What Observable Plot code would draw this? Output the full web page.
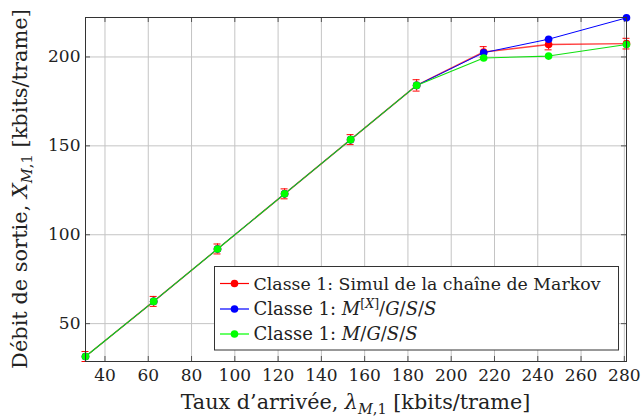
<!DOCTYPE html>
<html><head><meta charset="utf-8">
<script src="https://cdn.jsdelivr.net/npm/d3@7"></script>
<script src="https://cdn.jsdelivr.net/npm/@observablehq/plot@0.6"></script>
<style>
body{margin:0;background:#fff}
#chart svg, #chart svg text, #chart svg tspan { font-family: "DejaVu Serif", "Liberation Serif", "Times New Roman", Times, serif !important; }
</style>
</head><body><div id="chart"></div>
<script>
// ---- data ----
const lambda   = [31, 62.5, 92, 123, 153.5, 184, 215, 245, 281];
const markov   = [31.5, 62.5, 92, 123, 153.5, 184, 202.8, 207, 207.5];
const markovErr= [2.8, 2.8, 2.8, 2.8, 2.8, 3.2, 3, 3, 3];
const batch    = [31.5, 62.5, 92, 123, 153.5, 184, 202.4, 210, 222];
const mgss     = [31.5, 62.5, 92, 123, 153.5, 184, 199.4, 200.5, 207];
const xTicks   = [40, 60, 80, 100, 120, 140, 160, 180, 200, 220, 240, 260, 280];
const yTicks   = [50, 100, 150, 200];
const colors   = ["#ff0000", "#0000ff", "#00ff00"];

const rows = (ys, err) => lambda.map((x, i) => ({x, y: ys[i], lo: err ? ys[i] - err[i] : null, hi: err ? ys[i] + err[i] : null}));
const dMarkov = rows(markov, markovErr);
const dBatch = rows(batch);
const dMgss = rows(mgss);

const W = 641, H = 418, mL = 85, mR = 15, mT = 17, mB = 57;
const innerW = W - mL - mR, innerH = H - mT - mB;

const plot = Plot.plot({
  width: W, height: H,
  marginLeft: mL, marginRight: mR, marginTop: mT, marginBottom: mB,
  style: {fontSize: "18px", color: "#222", background: "#fff"},
  x: {domain: [31, 281]},
  y: {domain: [28.7, 222.2]},
  marks: [
    Plot.ruleX(xTicks, {x: d => d, stroke: "#c4c4c4", strokeWidth: 1}),
    Plot.ruleY(yTicks, {y: d => d, stroke: "#c4c4c4", strokeWidth: 1}),
    Plot.tickX(xTicks, {x: d => d, insetTop: innerH - 5, stroke: "#555"}),
    Plot.tickX(xTicks, {x: d => d, insetBottom: innerH - 5, stroke: "#555"}),
    Plot.tickY(yTicks, {y: d => d, insetRight: innerW - 5, stroke: "#555"}),
    Plot.tickY(yTicks, {y: d => d, insetLeft: innerW - 5, stroke: "#555"}),
    Plot.line(dMarkov, {x: "x", y: "y", stroke: colors[0], strokeWidth: 1.4, strokeOpacity: 0.75}),
    Plot.ruleX(dMarkov, {x: "x", y1: "lo", y2: "hi", stroke: colors[0], strokeWidth: 1}),
    Plot.ruleY(dMarkov, {y: "lo", x1: "x", x2: "x", insetLeft: -3.5, insetRight: -3.5, stroke: colors[0], strokeWidth: 1}),
    Plot.ruleY(dMarkov, {y: "hi", x1: "x", x2: "x", insetLeft: -3.5, insetRight: -3.5, stroke: colors[0], strokeWidth: 1}),
    Plot.dot(dMarkov, {x: "x", y: "y", r: 3.8, fill: colors[0], stroke: "none"}),
    Plot.line(dBatch, {x: "x", y: "y", stroke: colors[1], strokeWidth: 1}),
    Plot.dot(dBatch, {x: "x", y: "y", r: 3.8, fill: colors[1], stroke: "none"}),
    Plot.line(dMgss, {x: "x", y: "y", stroke: "#10e010", strokeWidth: 1.1}),
    Plot.dot(dMgss, {x: "x", y: "y", r: 3.8, fill: colors[2], stroke: "none"}),
    Plot.frame({stroke: "#333", strokeWidth: 1}),
    Plot.axisX({ticks: xTicks, tickSize: 0, tickPadding: 7, label: null, fontSize: 17}),
    Plot.axisY({ticks: yTicks, tickSize: 0, tickPadding: 5, label: null, fontSize: 17})
  ]
});
document.getElementById("chart").appendChild(plot);

const svg = d3.select(plot);

function rich(textSel, parts, baseSize) {
  let shift = 0;
  parts.forEach(p => {
    const [t, o = {}] = p;
    const ts = textSel.append("tspan").text(t);
    let target = 0;
    if (o.sub) target = baseSize * 0.22;
    if (o.sup) target = -baseSize * 0.4;
    ts.attr("dy", target - shift);
    shift = target;
    if (o.italic) ts.attr("font-style", "italic");
    if (o.sub || o.sup) ts.attr("font-size", baseSize * 0.7);
  });
}
function fit(textSel, target) {
  const w = textSel.node().getComputedTextLength();
  if (w > 0) {
    const fs = +textSel.attr("font-size");
    const nf = fs * target / w;
    textSel.attr("font-size", nf);
    textSel.selectAll("tspan").each(function() {
      const s = this.getAttribute("font-size");
      if (s) this.setAttribute("font-size", nf * 0.7);
      const dy = +this.getAttribute("dy");
      this.setAttribute("dy", dy * nf / fs);
    });
  }
}

const xl = svg.append("text").attr("x", mL + innerW / 2).attr("y", 409)
  .attr("text-anchor", "middle").attr("font-size", 20).attr("fill", "#222");
rich(xl, [["Taux d’arrivée, "], ["λ", {italic: true}], ["M", {italic: true, sub: true}], [",1", {sub: true}], [" [kbits/trame]"]], 20);
fit(xl, 350);

const yl = svg.append("text").attr("transform", `translate(27,${mT + innerH / 2}) rotate(-90)`)
  .attr("text-anchor", "middle").attr("font-size", 20).attr("fill", "#222");
rich(yl, [["Débit de sortie, "], ["X", {italic: true}], ["M", {italic: true, sub: true}], [",1", {sub: true}], [" [kbits/trame]"]], 20);
fit(yl, 360);

const lg = svg.append("g").attr("font-size", 18).attr("text-anchor", "start");
lg.append("rect").attr("x", 214.5).attr("y", 266.5).attr("width", 404).attr("height", 83.5)
  .attr("fill", "#fff").attr("stroke", "#333").attr("stroke-width", 1);
const entries = [
  [["Classe 1: Simul de la chaîne de Markov"]],
  [["Classe 1: "], ["M", {italic: true}], ["[", {sup: true}], ["X", {sup: true, italic: true}], ["]", {sup: true}], ["/"], ["G", {italic: true}], ["/"], ["S", {italic: true}], ["/"], ["S", {italic: true}]],
  [["Classe 1: "], ["M", {italic: true}], ["/"], ["G", {italic: true}], ["/"], ["S", {italic: true}], ["/"], ["S", {italic: true}]]
];
const ys = [283.5, 309, 334];
const texts = [];
entries.forEach((parts, i) => {
  lg.append("line").attr("x1", 220).attr("x2", 249).attr("y1", ys[i]).attr("y2", ys[i])
    .attr("stroke", colors[i]).attr("stroke-width", 1.2);
  lg.append("circle").attr("cx", 234.5).attr("cy", ys[i]).attr("r", 3.8).attr("fill", colors[i]);
  const t = lg.append("text").attr("x", 253.5).attr("y", ys[i] + 6).attr("fill", "#222").attr("font-size", 18);
  rich(t, parts, 18);
  texts.push(t);
});
fit(texts[0], 347);
</script></body></html>
